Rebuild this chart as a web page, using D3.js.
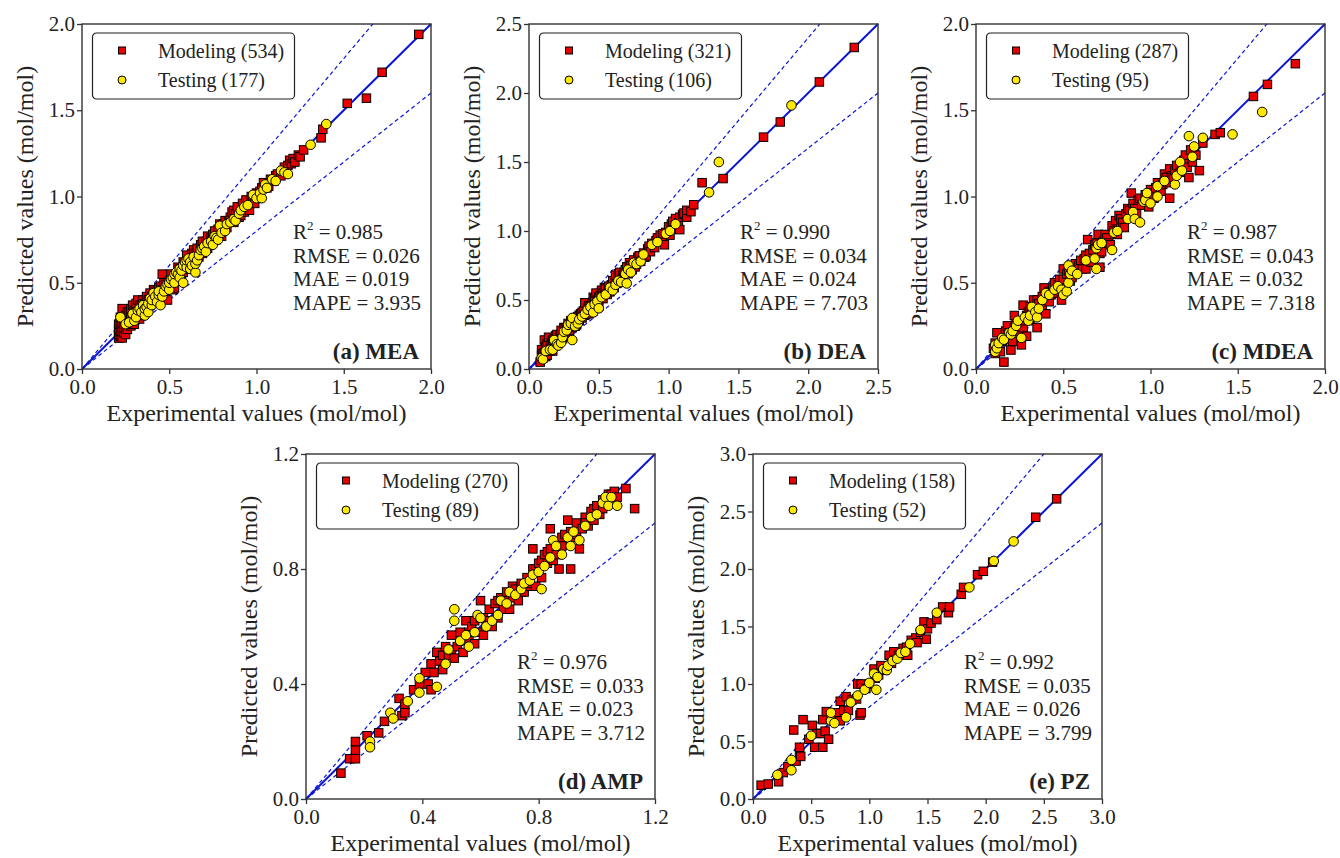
<!DOCTYPE html>
<html>
<head>
<meta charset="utf-8">
<script src="https://cdn.jsdelivr.net/npm/d3@7"></script>
<style>
  body { margin: 0; background: #fff; }
  text { font-family: "Liberation Serif", "Times New Roman", serif; fill: #222; }
</style>
</head>
<body>
<div id="chart"></div>
<script>
// values: [experimental, predicted]
const meaModel = [[0.21,0.18],[0.21,0.20],[0.21,0.23],[0.21,0.26],[0.22,0.19],[0.22,0.22],[0.22,0.26],[0.22,0.30],[0.23,0.18],[0.23,0.22],[0.23,0.27],[0.23,0.35],[0.24,0.21],[0.24,0.24],[0.24,0.28],[0.25,0.20],[0.25,0.25],[0.25,0.31],[0.26,0.23],[0.26,0.28],[0.26,0.33],[0.27,0.27],[0.27,0.33],[0.28,0.25],[0.28,0.30],[0.28,0.35],[0.29,0.26],[0.29,0.37],[0.30,0.26],[0.30,0.29],[0.30,0.34],[0.31,0.33],[0.31,0.38],[0.32,0.30],[0.32,0.40],[0.33,0.29],[0.33,0.34],[0.33,0.37],[0.34,0.31],[0.34,0.37],[0.35,0.34],[0.35,0.40],[0.36,0.33],[0.36,0.38],[0.37,0.34],[0.37,0.42],[0.38,0.36],[0.38,0.40],[0.39,0.37],[0.39,0.44],[0.40,0.38],[0.40,0.42],[0.41,0.39],[0.41,0.46],[0.42,0.40],[0.42,0.45],[0.43,0.44],[0.44,0.40],[0.44,0.47],[0.45,0.42],[0.45,0.48],[0.46,0.55],[0.46,0.46],[0.47,0.44],[0.47,0.50],[0.48,0.43],[0.48,0.49],[0.49,0.40],[0.50,0.47],[0.50,0.51],[0.51,0.55],[0.52,0.46],[0.52,0.50],[0.53,0.47],[0.54,0.55],[0.55,0.52],[0.55,0.59],[0.56,0.51],[0.56,0.58],[0.57,0.54],[0.58,0.56],[0.58,0.62],[0.59,0.58],[0.60,0.62],[0.60,0.66],[0.61,0.60],[0.62,0.58],[0.62,0.63],[0.63,0.67],[0.64,0.62],[0.64,0.69],[0.65,0.67],[0.66,0.64],[0.66,0.70],[0.67,0.65],[0.68,0.72],[0.69,0.67],[0.69,0.74],[0.70,0.70],[0.71,0.74],[0.72,0.70],[0.72,0.77],[0.73,0.72],[0.74,0.76],[0.75,0.78],[0.76,0.80],[0.77,0.75],[0.78,0.81],[0.79,0.84],[0.80,0.77],[0.80,0.80],[0.81,0.84],[0.82,0.86],[0.83,0.82],[0.84,0.86],[0.85,0.88],[0.86,0.91],[0.87,0.85],[0.87,0.92],[0.88,0.90],[0.89,0.94],[0.90,0.88],[0.91,0.89],[0.92,0.96],[0.93,0.91],[0.94,0.93],[0.94,0.98],[0.95,0.94],[0.96,0.92],[0.97,1.00],[0.98,0.97],[0.99,0.96],[1.00,1.02],[1.01,0.99],[1.02,1.03],[1.03,1.05],[1.04,1.08],[1.06,1.05],[1.07,1.06],[1.08,1.10],[1.10,1.09],[1.11,1.12],[1.12,1.13],[1.14,1.12],[1.15,1.15],[1.16,1.17],[1.18,1.18],[1.19,1.21],[1.20,1.19],[1.21,1.22],[1.22,1.20],[1.24,1.24],[1.25,1.23],[1.27,1.27],[1.37,1.34],[1.38,1.39],[1.52,1.54],[1.63,1.57],[1.72,1.72],[1.93,1.94]];
const meaTest = [[0.22,0.30],[0.25,0.26],[0.27,0.27],[0.29,0.32],[0.30,0.28],[0.31,0.30],[0.32,0.34],[0.33,0.35],[0.34,0.33],[0.35,0.37],[0.36,0.31],[0.36,0.35],[0.37,0.36],[0.38,0.33],[0.38,0.38],[0.39,0.41],[0.40,0.37],[0.40,0.40],[0.41,0.44],[0.42,0.42],[0.43,0.39],[0.44,0.43],[0.44,0.45],[0.45,0.37],[0.46,0.42],[0.47,0.45],[0.48,0.48],[0.49,0.49],[0.50,0.46],[0.50,0.50],[0.51,0.52],[0.52,0.53],[0.53,0.50],[0.53,0.55],[0.54,0.56],[0.55,0.55],[0.56,0.53],[0.56,0.58],[0.57,0.57],[0.58,0.50],[0.58,0.60],[0.59,0.62],[0.60,0.59],[0.60,0.63],[0.61,0.64],[0.62,0.58],[0.62,0.62],[0.63,0.60],[0.64,0.65],[0.65,0.56],[0.65,0.61],[0.66,0.63],[0.67,0.66],[0.68,0.69],[0.69,0.70],[0.70,0.71],[0.71,0.68],[0.72,0.73],[0.74,0.74],[0.75,0.72],[0.76,0.77],[0.77,0.76],[0.78,0.75],[0.79,0.83],[0.80,0.79],[0.82,0.80],[0.83,0.84],[0.85,0.85],[0.87,0.87],[0.88,0.86],[0.90,0.90],[0.91,0.92],[0.93,0.94],[0.95,0.95],[0.98,1.01],[1.00,0.99],[1.02,1.02],[1.03,0.99],[1.04,1.04],[1.05,1.07],[1.06,1.05],[1.09,1.10],[1.11,1.09],[1.14,1.15],[1.16,1.14],[1.18,1.13],[1.31,1.30],[1.40,1.42]];

const deaModel = [[0.08,0.05],[0.09,0.10],[0.09,0.14],[0.10,0.08],[0.10,0.11],[0.11,0.21],[0.11,0.12],[0.12,0.09],[0.12,0.16],[0.13,0.10],[0.13,0.18],[0.14,0.13],[0.14,0.23],[0.15,0.15],[0.16,0.15],[0.16,0.19],[0.17,0.13],[0.17,0.21],[0.18,0.22],[0.19,0.17],[0.19,0.24],[0.20,0.20],[0.20,0.25],[0.21,0.20],[0.22,0.20],[0.22,0.24],[0.23,0.25],[0.23,0.28],[0.24,0.22],[0.25,0.24],[0.25,0.30],[0.26,0.26],[0.26,0.30],[0.27,0.29],[0.28,0.27],[0.28,0.33],[0.29,0.28],[0.29,0.32],[0.30,0.35],[0.31,0.30],[0.31,0.33],[0.32,0.34],[0.33,0.31],[0.33,0.37],[0.34,0.32],[0.34,0.36],[0.35,0.38],[0.36,0.35],[0.36,0.39],[0.37,0.40],[0.38,0.37],[0.38,0.41],[0.39,0.42],[0.40,0.48],[0.40,0.39],[0.41,0.40],[0.42,0.44],[0.43,0.40],[0.43,0.46],[0.44,0.46],[0.45,0.43],[0.45,0.47],[0.46,0.52],[0.47,0.47],[0.47,0.51],[0.48,0.55],[0.49,0.50],[0.50,0.46],[0.50,0.52],[0.51,0.53],[0.52,0.57],[0.53,0.51],[0.53,0.55],[0.54,0.59],[0.55,0.58],[0.56,0.54],[0.57,0.56],[0.57,0.60],[0.58,0.56],[0.59,0.61],[0.60,0.64],[0.61,0.59],[0.62,0.63],[0.62,0.68],[0.63,0.62],[0.64,0.66],[0.64,0.69],[0.65,0.70],[0.66,0.64],[0.67,0.68],[0.68,0.70],[0.69,0.72],[0.70,0.74],[0.71,0.69],[0.72,0.77],[0.73,0.75],[0.74,0.72],[0.75,0.79],[0.76,0.74],[0.77,0.76],[0.78,0.81],[0.79,0.82],[0.80,0.78],[0.82,0.84],[0.83,0.81],[0.84,0.82],[0.85,0.87],[0.86,0.89],[0.87,0.85],[0.88,0.91],[0.90,0.88],[0.91,0.93],[0.92,0.95],[0.94,0.97],[0.95,0.92],[0.96,0.98],[0.97,0.90],[0.98,0.99],[1.00,1.03],[1.01,0.97],[1.02,1.05],[1.03,1.07],[1.05,1.09],[1.06,1.04],[1.07,1.06],[1.08,1.01],[1.08,1.10],[1.10,1.12],[1.11,1.13],[1.13,1.10],[1.13,1.15],[1.16,1.14],[1.18,1.19],[1.24,1.35],[1.39,1.38],[1.68,1.68],[1.80,1.79],[2.08,2.08],[2.33,2.33]];
const deaTest = [[0.09,0.08],[0.10,0.07],[0.12,0.13],[0.15,0.14],[0.17,0.14],[0.18,0.21],[0.20,0.18],[0.21,0.17],[0.23,0.19],[0.24,0.23],[0.25,0.27],[0.27,0.28],[0.28,0.32],[0.30,0.33],[0.31,0.37],[0.31,0.21],[0.33,0.31],[0.35,0.33],[0.36,0.36],[0.38,0.38],[0.40,0.40],[0.42,0.43],[0.44,0.45],[0.46,0.41],[0.47,0.47],[0.49,0.49],[0.50,0.44],[0.52,0.52],[0.55,0.54],[0.58,0.59],[0.60,0.57],[0.62,0.61],[0.64,0.64],[0.66,0.63],[0.69,0.69],[0.70,0.62],[0.71,0.72],[0.73,0.70],[0.75,0.77],[0.77,0.76],[0.80,0.78],[0.82,0.83],[0.88,0.90],[0.92,0.92],[0.98,0.98],[1.01,1.00],[1.05,1.05],[1.29,1.28],[1.36,1.50],[1.88,1.91]];

const mdeaModel = [[0.10,0.12],[0.11,0.09],[0.11,0.15],[0.12,0.21],[0.13,0.14],[0.14,0.10],[0.15,0.16],[0.16,0.04],[0.17,0.18],[0.17,0.22],[0.18,0.25],[0.19,0.17],[0.19,0.21],[0.20,0.11],[0.21,0.16],[0.22,0.24],[0.22,0.31],[0.23,0.26],[0.24,0.22],[0.25,0.27],[0.26,0.14],[0.27,0.24],[0.27,0.37],[0.28,0.28],[0.29,0.19],[0.29,0.31],[0.30,0.33],[0.31,0.29],[0.31,0.36],[0.32,0.35],[0.33,0.33],[0.33,0.40],[0.34,0.31],[0.35,0.24],[0.35,0.40],[0.36,0.38],[0.37,0.35],[0.38,0.37],[0.38,0.42],[0.39,0.47],[0.40,0.32],[0.40,0.42],[0.41,0.40],[0.42,0.39],[0.42,0.45],[0.43,0.43],[0.44,0.47],[0.45,0.50],[0.46,0.44],[0.47,0.49],[0.48,0.52],[0.49,0.40],[0.50,0.52],[0.50,0.58],[0.51,0.47],[0.52,0.55],[0.53,0.57],[0.54,0.51],[0.55,0.53],[0.56,0.60],[0.57,0.61],[0.58,0.56],[0.59,0.60],[0.60,0.63],[0.61,0.58],[0.62,0.64],[0.63,0.58],[0.63,0.66],[0.64,0.75],[0.65,0.67],[0.66,0.62],[0.67,0.69],[0.68,0.72],[0.69,0.73],[0.70,0.78],[0.71,0.59],[0.71,0.67],[0.72,0.68],[0.73,0.74],[0.74,0.78],[0.75,0.76],[0.76,0.73],[0.77,0.72],[0.78,0.83],[0.79,0.80],[0.80,0.86],[0.81,0.78],[0.82,0.89],[0.83,0.87],[0.84,0.85],[0.85,0.82],[0.86,0.90],[0.87,0.93],[0.88,0.92],[0.89,1.02],[0.90,0.96],[0.91,0.93],[0.92,0.90],[0.93,0.98],[0.94,0.99],[0.95,0.95],[0.97,1.01],[0.98,0.97],[0.99,0.94],[1.00,1.04],[1.01,1.02],[1.02,0.99],[1.03,1.05],[1.04,1.08],[1.06,1.03],[1.07,1.07],[1.08,1.13],[1.09,1.11],[1.10,1.08],[1.11,0.99],[1.11,1.16],[1.12,1.12],[1.13,1.11],[1.14,1.15],[1.15,1.18],[1.17,1.14],[1.18,1.17],[1.19,1.21],[1.20,1.24],[1.21,1.17],[1.22,1.11],[1.23,1.27],[1.24,1.20],[1.25,1.26],[1.26,1.24],[1.28,1.15],[1.30,1.31],[1.37,1.36],[1.40,1.37],[1.59,1.58],[1.67,1.65],[1.83,1.77]];
const mdeaTest = [[0.11,0.10],[0.11,0.14],[0.12,0.12],[0.13,0.15],[0.15,0.18],[0.16,0.17],[0.19,0.21],[0.20,0.20],[0.21,0.22],[0.23,0.25],[0.24,0.28],[0.26,0.18],[0.28,0.30],[0.30,0.28],[0.31,0.31],[0.32,0.36],[0.34,0.33],[0.35,0.30],[0.36,0.35],[0.38,0.40],[0.40,0.44],[0.42,0.43],[0.45,0.46],[0.47,0.48],[0.49,0.46],[0.50,0.43],[0.52,0.45],[0.53,0.50],[0.53,0.60],[0.54,0.55],[0.55,0.57],[0.58,0.55],[0.63,0.63],[0.68,0.64],[0.69,0.58],[0.69,0.70],[0.70,0.72],[0.72,0.73],[0.78,0.69],[0.79,0.79],[0.81,0.80],[0.87,0.87],[0.90,0.91],[0.91,0.87],[0.94,0.85],[0.96,0.97],[0.97,0.98],[0.98,1.02],[1.00,0.96],[1.04,1.00],[1.04,1.06],[1.08,1.09],[1.14,1.07],[1.15,1.12],[1.17,1.20],[1.18,1.15],[1.22,1.35],[1.24,1.23],[1.25,1.29],[1.30,1.34],[1.47,1.36],[1.64,1.49]];

const ampModel = [[0.12,0.09],[0.15,0.14],[0.17,0.14],[0.17,0.17],[0.17,0.20],[0.21,0.22],[0.25,0.23],[0.27,0.27],[0.32,0.35],[0.33,0.29],[0.34,0.30],[0.34,0.33],[0.37,0.38],[0.39,0.40],[0.41,0.44],[0.42,0.40],[0.43,0.38],[0.43,0.47],[0.44,0.44],[0.45,0.51],[0.46,0.48],[0.47,0.45],[0.47,0.50],[0.48,0.53],[0.49,0.50],[0.50,0.52],[0.50,0.57],[0.51,0.49],[0.52,0.53],[0.53,0.55],[0.53,0.58],[0.54,0.51],[0.55,0.62],[0.56,0.55],[0.56,0.58],[0.57,0.60],[0.58,0.54],[0.58,0.62],[0.59,0.58],[0.60,0.69],[0.60,0.63],[0.61,0.57],[0.61,0.63],[0.62,0.61],[0.63,0.62],[0.63,0.66],[0.64,0.60],[0.65,0.68],[0.66,0.63],[0.66,0.69],[0.67,0.70],[0.68,0.66],[0.69,0.69],[0.69,0.72],[0.70,0.66],[0.71,0.70],[0.71,0.74],[0.72,0.73],[0.73,0.69],[0.74,0.72],[0.74,0.75],[0.75,0.72],[0.76,0.74],[0.76,0.77],[0.77,0.75],[0.78,0.87],[0.78,0.80],[0.79,0.74],[0.79,0.80],[0.80,0.82],[0.81,0.77],[0.81,0.83],[0.82,0.85],[0.83,0.82],[0.83,0.86],[0.84,0.94],[0.84,0.87],[0.85,0.83],[0.86,0.85],[0.86,0.89],[0.87,0.80],[0.88,0.88],[0.88,0.91],[0.89,0.92],[0.90,0.97],[0.91,0.80],[0.91,0.93],[0.92,0.91],[0.93,0.96],[0.93,0.92],[0.94,0.87],[0.95,0.94],[0.96,0.98],[0.96,0.96],[0.97,0.95],[0.98,1.00],[0.99,0.97],[0.99,1.01],[1.00,1.02],[1.01,0.99],[1.02,1.04],[1.02,1.01],[1.04,1.03],[1.04,1.06],[1.05,1.06],[1.06,1.07],[1.07,1.05],[1.10,1.08],[1.13,1.01]];
const ampTest = [[0.22,0.20],[0.22,0.18],[0.29,0.30],[0.30,0.28],[0.35,0.34],[0.39,0.37],[0.39,0.42],[0.45,0.39],[0.48,0.47],[0.49,0.52],[0.51,0.66],[0.51,0.62],[0.53,0.55],[0.55,0.57],[0.56,0.53],[0.58,0.58],[0.59,0.64],[0.60,0.63],[0.62,0.60],[0.64,0.62],[0.66,0.64],[0.67,0.69],[0.69,0.68],[0.70,0.72],[0.72,0.71],[0.74,0.73],[0.75,0.75],[0.77,0.76],[0.78,0.78],[0.80,0.79],[0.81,0.73],[0.82,0.81],[0.84,0.84],[0.85,0.90],[0.86,0.88],[0.88,0.85],[0.90,0.91],[0.91,0.88],[0.92,0.93],[0.94,0.90],[0.96,0.95],[0.98,0.98],[1.00,0.99],[1.02,1.03],[1.03,1.05],[1.04,1.02],[1.05,1.05],[1.07,1.02]];

const pzModel = [[0.07,0.12],[0.13,0.13],[0.22,0.15],[0.26,0.23],[0.30,0.28],[0.35,0.60],[0.37,0.33],[0.40,0.40],[0.40,0.45],[0.41,0.37],[0.43,0.69],[0.48,0.52],[0.51,0.64],[0.53,0.45],[0.55,0.57],[0.58,0.57],[0.60,0.45],[0.60,0.69],[0.62,0.59],[0.63,0.76],[0.65,0.52],[0.68,0.72],[0.72,0.75],[0.75,0.68],[0.75,0.85],[0.78,0.77],[0.80,0.89],[0.82,0.77],[0.85,0.86],[0.89,0.87],[0.90,1.00],[0.92,0.73],[0.93,0.75],[0.93,1.00],[0.97,0.96],[1.00,1.00],[1.04,1.13],[1.05,1.05],[1.08,1.08],[1.10,1.16],[1.13,1.12],[1.17,1.25],[1.19,1.18],[1.21,1.28],[1.25,1.25],[1.29,1.31],[1.32,1.32],[1.33,1.25],[1.36,1.38],[1.40,1.40],[1.41,1.36],[1.44,1.45],[1.47,1.54],[1.49,1.39],[1.50,1.48],[1.53,1.53],[1.58,1.56],[1.63,1.67],[1.68,1.62],[1.69,1.67],[1.79,1.78],[1.81,1.84],[1.93,1.95],[1.98,1.98],[2.06,2.06],[2.43,2.45],[2.61,2.61]];
const pzTest = [[0.21,0.21],[0.33,0.25],[0.33,0.34],[0.50,0.55],[0.67,0.68],[0.67,0.75],[0.70,0.66],[0.80,0.71],[0.84,0.84],[0.90,0.90],[0.96,0.95],[1.00,1.01],[1.04,1.09],[1.06,0.95],[1.07,1.06],[1.12,1.13],[1.15,1.12],[1.16,1.16],[1.20,1.20],[1.24,1.22],[1.27,1.27],[1.31,1.28],[1.35,1.35],[1.44,1.47],[1.58,1.62],[1.86,1.84],[2.07,2.07],[2.24,2.24]];

const titles = ["(a) MEA", "(b) DEA", "(c) MDEA", "(d) AMP", "(e) PZ"];
const axisMax = [2.0, 2.5, 2.0, 1.2, 3.0];
const tickSets = [
  [0, 0.5, 1.0, 1.5, 2.0],
  [0, 0.5, 1.0, 1.5, 2.0, 2.5],
  [0, 0.5, 1.0, 1.5, 2.0],
  [0, 0.4, 0.8, 1.2],
  [0, 0.5, 1.0, 1.5, 2.0, 2.5, 3.0]
];
const nModeling = [534, 321, 287, 270, 158];
const nTesting = [177, 106, 95, 89, 52];
const r2 = ["0.985", "0.990", "0.987", "0.976", "0.992"];
const rmse = ["0.026", "0.034", "0.043", "0.033", "0.035"];
const mae = ["0.019", "0.024", "0.032", "0.023", "0.026"];
const mape = ["3.935", "7.703", "7.318", "3.712", "3.799"];
const modelSets = [meaModel, deaModel, mdeaModel, ampModel, pzModel];
const testSets = [meaTest, deaTest, mdeaTest, ampTest, pzTest];

// panel frames (left, top) in px
const origins = [[82, 24], [529, 24], [976, 24], [306, 454], [753, 454]];
const W = 349, H = 345;
const red = "#e80000", yellow = "#ffe900", blue = "#0a14d8";

const svg = d3.select("#chart").append("svg")
  .attr("width", 1340)
  .attr("height", 858);

titles.forEach((title, i) => {
  const g = svg.append("g").attr("transform", `translate(${origins[i][0]},${origins[i][1]})`);
  const x = d3.scaleLinear().domain([0, axisMax[i]]).range([0, W]);
  const y = d3.scaleLinear().domain([0, axisMax[i]]).range([H, 0]);
  const m = axisMax[i];

  // axes
  const xa = g.append("g").attr("transform", `translate(0,${H})`)
    .call(d3.axisBottom(x).tickValues(tickSets[i]).tickFormat(d3.format(".1f")).tickSize(5).tickPadding(5));
  const ya = g.append("g")
    .call(d3.axisLeft(y).tickValues(tickSets[i]).tickFormat(d3.format(".1f")).tickSize(5).tickPadding(2));
  [xa, ya].forEach(a => {
    a.select(".domain").remove();
    a.selectAll("line").attr("stroke", "#333").attr("stroke-width", 1.3);
    a.selectAll("text").style("font-size", "21px").attr("fill", "#222")
      .style("font-family", '"Liberation Serif", serif');
  });

  // reference lines y = x, +/-20%
  const ref = [
    {k: 1.0, dash: null, w: 2},
    {k: 1.2, dash: "4,3", w: 1.2},
    {k: 0.8, dash: "4,3", w: 1.2}
  ];
  ref.forEach(r => {
    const xe = Math.min(m, m / r.k);
    g.append("line")
      .attr("x1", x(0)).attr("y1", y(0))
      .attr("x2", x(xe)).attr("y2", y(xe * r.k))
      .attr("stroke", blue).attr("stroke-width", r.w)
      .attr("stroke-dasharray", r.dash);
  });

  // modeling squares
  const s = 8.5;
  g.append("g").selectAll("rect").data(modelSets[i]).enter().append("rect")
    .attr("x", d => x(d[0]) - s / 2)
    .attr("y", d => y(d[1]) - s / 2)
    .attr("width", s).attr("height", s)
    .attr("fill", red).attr("stroke", "#000").attr("stroke-width", 1);

  // testing circles
  g.append("g").selectAll("circle").data(testSets[i]).enter().append("circle")
    .attr("cx", d => x(d[0]))
    .attr("cy", d => y(d[1]))
    .attr("r", 4.8)
    .attr("fill", yellow).attr("stroke", "#000").attr("stroke-width", 1);

  // frame
  g.append("rect").attr("width", W).attr("height", H)
    .attr("fill", "none").attr("stroke", "#333").attr("stroke-width", 1.4);

  // legend
  const lg = g.append("g").attr("transform", "translate(10.5,9)");
  lg.append("rect").attr("width", 202).attr("height", 66).attr("rx", 4)
    .attr("fill", "#fff").attr("stroke", "#222").attr("stroke-width", 1.2);
  lg.append("rect").attr("x", 26).attr("y", 14).attr("width", 7).attr("height", 7)
    .attr("fill", red).attr("stroke", "#000").attr("stroke-width", 1);
  lg.append("circle").attr("cx", 29.5).attr("cy", 47).attr("r", 4)
    .attr("fill", yellow).attr("stroke", "#000").attr("stroke-width", 1);
  lg.append("text").attr("x", 65.5).attr("y", 24.5).style("font-size", "20px")
    .text(`Modeling (${nModeling[i]})`);
  lg.append("text").attr("x", 65.5).attr("y", 53.5).style("font-size", "20px")
    .text(`Testing (${nTesting[i]})`);

  // statistics
  const st = g.append("g").attr("transform", "translate(211,0)");
  const r2t = st.append("text").attr("x", 0).attr("y", 215).style("font-size", "21px");
  r2t.append("tspan").text("R");
  r2t.append("tspan").attr("dy", -9).style("font-size", "13px").text("2");
  r2t.append("tspan").attr("dy", 9).text(" = " + r2[i]);
  [["RMSE", rmse[i]], ["MAE", mae[i]], ["MAPE", mape[i]]].forEach((row, j) => {
    st.append("text").attr("x", 0).attr("y", 238.5 + j * 23.5)
      .style("font-size", "21px").text(`${row[0]} = ${row[1]}`);
  });

  // panel title
  g.append("text").attr("x", W - 12).attr("y", H - 10)
    .attr("text-anchor", "end").style("font-size", "23px").style("font-weight", "bold")
    .text(title);

  // axis titles
  g.append("text").attr("x", W / 2).attr("y", H + 52)
    .attr("text-anchor", "middle").style("font-size", "24px")
    .text("Experimental values (mol/mol)");
  g.append("text").attr("transform", `translate(-49,${H / 2}) rotate(-90)`)
    .attr("text-anchor", "middle").style("font-size", "24px")
    .text("Predicted values (mol/mol)");
});
</script>
</body>
</html>
